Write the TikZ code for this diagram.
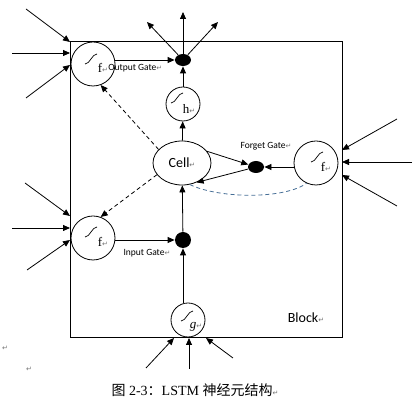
\documentclass[tikz,border=0pt]{standalone}
\usepackage{fontspec}
\setmainfont{Liberation Serif}
\newfontfamily\lblfont{Carlito}
\newfontfamily\cjk{Noto Sans CJK SC}
\newfontfamily\symfont{DejaVu Sans}
\usetikzlibrary{arrows.meta,shapes.geometric,calc}
\newcommand{\rmark}{{\symfont\color{black!55}\fontsize{7}{7}\selectfont ↵}}
\begin{document}
\begin{tikzpicture}[x=1pt,y=-1pt, line width=0.8pt,
  arr/.style={-{Triangle[length=7pt,width=6pt]}},
  gate/.style={circle, draw, minimum size=44pt, inner sep=0pt},
  smallgate/.style={circle, draw, minimum size=34pt, inner sep=0pt},
  blackdot/.style={ellipse, fill=black, minimum width=16pt, minimum height=12pt, inner sep=0pt},
  lbl/.style={font=\lblfont\fontsize{9.5}{10}\selectfont, inner sep=0pt},
  big/.style={font=\lblfont\fontsize{14}{14}\selectfont, inner sep=0pt},
  gl/.style={font=\fontsize{13}{13}\selectfont, inner sep=0pt},
  dsh/.style={dash pattern=on 4pt off 3pt},
  sig/.pic={\draw[line width=0.7pt] (-6,5) .. controls (-1,5) and (1,-5) .. (6,-5);}
]
\useasboundingbox (0,0) rectangle (416,403);

% block
\node[draw, minimum width=272pt, minimum height=296pt, inner sep=0pt] (block) at (206,189) {};

% gates and units
\node[gate] (og) at (93,64) {};
\node[gate] (ig) at (93,238) {};
\node[gate] (fg) at (316,163) {};
\node[smallgate] (hn) at (183,104) {};
\node[smallgate] (gn) at (188,320) {};
\node[ellipse, draw, minimum width=58pt, minimum height=44pt, inner sep=0pt, font=\lblfont\fontsize{14}{14}\selectfont] (cell) at (182,163) {Cell\rmark};
\node[blackdot] (od) at (183,60) {};
\node[blackdot, minimum width=16pt, minimum height=16pt] (idot) at (183,240) {};
\node[blackdot] (fd) at (256,167) {};

% sigmoid symbols and letters
\pic at ($(og)+(-2,-5)$) {sig};
\pic at ($(ig)+(-2,-6)$) {sig};
\pic at ($(fg)+(1,-6)$) {sig};
\pic at ($(hn)+(-6,-6)$) {sig};
\pic at ($(gn)+(-1,-4)$) {sig};
\node[gl] (ogf) at ($(og)+(10,4)$) {f\rmark};
\node[gl] (igf) at ($(ig)+(10,4)$) {f\rmark};
\node[gl] (fgf) at ($(fg)+(10,4)$) {f\rmark};
\node[gl] (hnh) at ($(hn)+(6,5)$) {h\rmark};
\node[gl] (gng) at ($(gn)+(8,7)$) {\textit{g}\rmark};

% labels
\node[lbl, anchor=west] (ogl) at (108,68) {Output Gate\rmark};
\node[lbl] (fgl) at (266,146) {Forget Gate\rmark};
\node[lbl] (igl) at (147,253) {Input Gate\rmark};
\node[big] (blk) at (306,318) {Block\rmark};
\node[inner sep=0pt, font=\fontsize{14}{14}\selectfont] (cap) at (195,390) {{\cjk 图} 2-3{\cjk ：}LSTM {\cjk 神经元结构}\rmark};
\node[inner sep=0pt] (r1) at (5,348) {\rmark};
\node[inner sep=0pt] (r2) at (29,369) {\rmark};

% free ends
\coordinate (a1) at (26,9);   \coordinate (a1e) at (70,42);
\coordinate (a2) at (12,53);  \coordinate (a2e) at (70,53);
\coordinate (a3) at (26,98);  \coordinate (a3e) at (70,65);
\coordinate (b1) at (25,183); \coordinate (b1e) at (70,216);
\coordinate (b2) at (12,228); \coordinate (b2e) at (70,228);
\coordinate (b3) at (27,270); \coordinate (b3e) at (70,240);
\coordinate (c1) at (397,119); \coordinate (c1e) at (342,150);
\coordinate (c2) at (412,162); \coordinate (c2e) at (342,162);
\coordinate (c3) at (397,206); \coordinate (c3e) at (342,175);
\coordinate (d1) at (146,368); \coordinate (d1e) at (174,338);
\coordinate (d2) at (189,369); \coordinate (d2e) at (189,338);
\coordinate (d3) at (233,358); \coordinate (d3e) at (206,338);
\coordinate (o1) at (147,22);
\coordinate (o2) at (183,12);
\coordinate (o3) at (218,22);

% inputs
\foreach \s in {a1,a2,a3,b1,b2,b3,c1,c2,c3,d1,d2,d3}{\draw[arr] (\s) -- (\s e);}

% outputs
\draw[arr] (od) -- (o1);
\draw[arr] (od) -- (o2);
\draw[arr] (od) -- (o3);

% internal connectors
\draw[arr] (od -| og.east) -- (od);
\draw[arr] (hn) -- (od);
\draw[arr] (cell) -- (hn);
\draw[arr] (idot -| ig.east) -- (idot);
\draw[arr] (idot) -- (cell);
\draw[arr] (idot |- gn.north) -- (idot);
\draw[arr] (fd -| fg.west) -- (fd);
\draw[arr] (cell.25) -- (fd);
\draw[arr] (fd) -- (cell.-53);
\draw[arr, dsh] (cell.150) -- (og.-70);
\draw[arr, dsh] (cell.205) -- (ig.70);
\draw[dsh, color={rgb,255:red,70;green,110;blue,150}] (cell.-70) .. controls (220,199) and (285,199) .. (fg.245);
\end{tikzpicture}
\end{document}
